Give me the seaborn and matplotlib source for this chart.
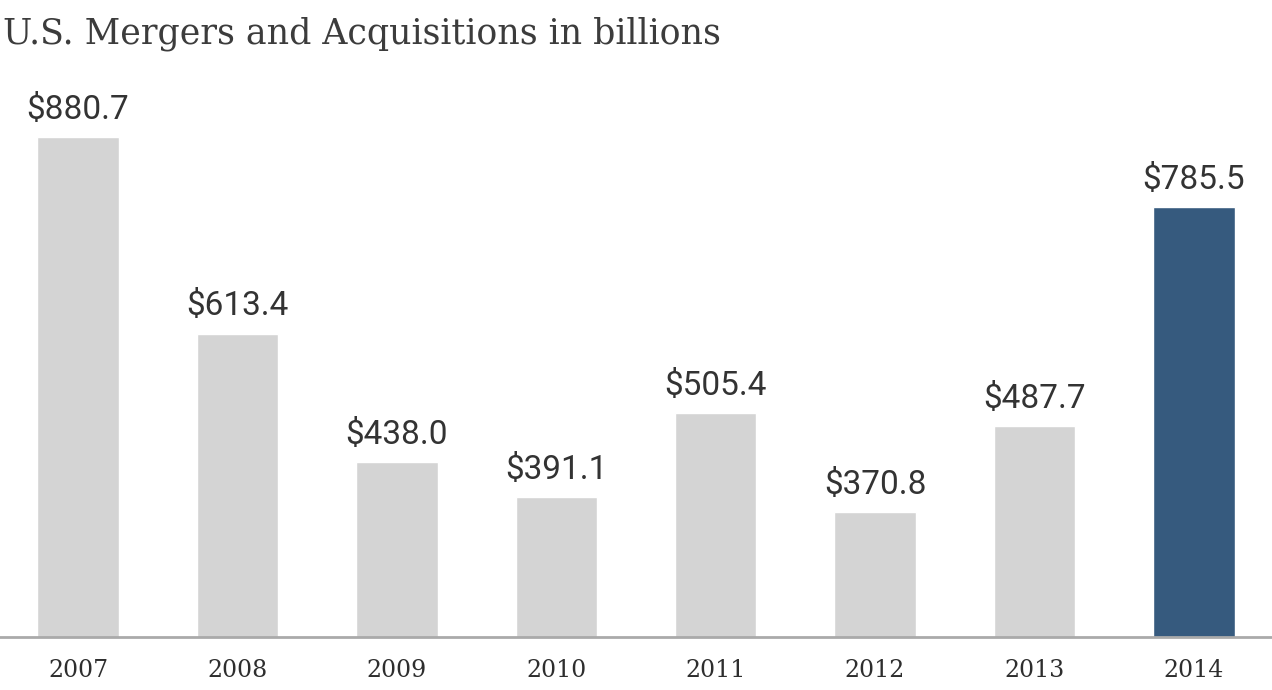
import matplotlib
matplotlib.use("Agg")
import matplotlib.pyplot as plt
import seaborn as sns
import pandas as pd

years = ["2007", "2008", "2009", "2010", "2011", "2012", "2013", "2014"]
values = [880.7, 613.4, 438.0, 391.1, 505.4, 370.8, 487.7, 785.5]
bar_colors = ["#d4d4d4"] * 7 + ["#365a7e"]

df = pd.DataFrame({"year": years, "value": values})

sns.set_style("white")

fig = plt.figure(figsize=(12.72, 6.9), dpi=100)
ax = fig.add_axes([0.0, 53 / 690, 1.0, 577 / 690])

sns.barplot(data=df, x="year", y="value", hue="year", palette=bar_colors,
            width=0.51, legend=False, ax=ax, saturation=1)

ax.set_xlim(-0.49, 7.49)
ax.set_ylim(200, 200 + 577 / 0.734)

for i, v in enumerate(values):
    ax.annotate(f"${v:.1f}", (i, v), xytext=(0, 8), textcoords="offset points",
                ha="center", va="bottom", fontsize=24, color="#333333",
                family=["Roboto", "DejaVu Sans"])

for s in ["top", "left", "right"]:
    ax.spines[s].set_visible(False)
ax.spines["bottom"].set_color("#aaaaaa")
ax.spines["bottom"].set_linewidth(2)

ax.set_yticks([])
ax.set_xlabel("")
ax.set_ylabel("")
ax.tick_params(axis="x", length=0, pad=16, labelsize=17, labelcolor="#2e2e2e")
for lbl in ax.get_xticklabels():
    lbl.set_family("DejaVu Serif")

fig.text(3 / 1272, 1 - 34 / 690, "U.S. Mergers and Acquisitions in billions",
         ha="left", va="center", fontsize=25, color="#3c3c3c", family="DejaVu Serif")

fig.savefig("out.png", dpi=100)
